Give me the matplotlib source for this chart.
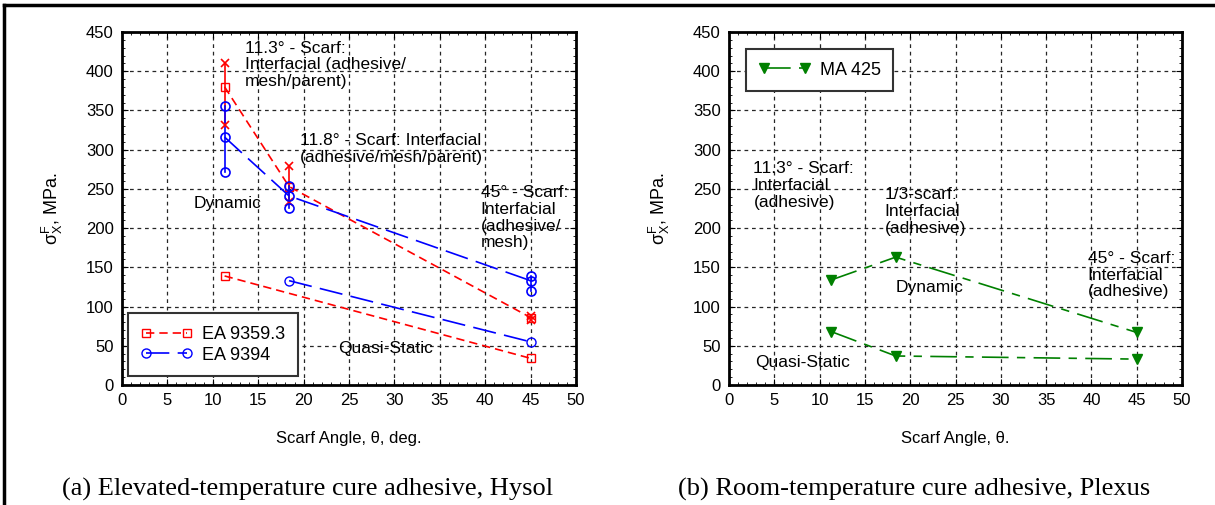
import matplotlib
matplotlib.use('Agg')
import matplotlib.pyplot as plt
from matplotlib.lines import Line2D
from matplotlib.ticker import MultipleLocator

plt.rcParams['font.family'] = ['Liberation Sans', 'DejaVu Sans']
plt.rcParams['mathtext.fontset'] = 'custom'
plt.rcParams['mathtext.rm'] = 'Liberation Sans'
plt.rcParams['mathtext.it'] = 'Liberation Sans'

# scarf angles, deg.
angles = [11.3, 18.4, 45]

# EA 9359.3 (Hysol) - dynamic means and individual tests
ea9359_dyn = [380, 253, 86]
ea9359_dyn_pts_x = [11.3, 11.3, 18.4, 18.4, 45, 45]
ea9359_dyn_pts = [411, 332, 279, 233, 88, 83]
ea9359_qs_x = [11.3, 45]
ea9359_qs = [139, 34]

# EA 9394 (Hysol)
ea9394_dyn = [316, 241, 133]
ea9394_dyn_pts_x = [11.3, 11.3, 11.3, 18.4, 18.4, 18.4, 45, 45, 45]
ea9394_dyn_pts = [356, 316, 271, 254, 241, 226, 139, 132, 120]
ea9394_qs_x = [18.4, 45]
ea9394_qs = [133, 55]

# MA 425 (Plexus)
ma425_dyn = [134, 163, 67]
ma425_qs = [68, 37, 33]

RED = '#ff0000'
BLUE = '#0000ff'
GREEN = '#008000'


def style_axes(ax):
    ax.set_xlim(0, 50)
    ax.set_ylim(0, 450)
    ax.xaxis.set_major_locator(MultipleLocator(5))
    ax.xaxis.set_minor_locator(MultipleLocator(1))
    ax.yaxis.set_major_locator(MultipleLocator(50))
    ax.yaxis.set_minor_locator(MultipleLocator(10))
    ax.tick_params(which='both', direction='in', top=True, right=True)
    ax.tick_params(which='major', length=4, labelsize=12, pad=6)
    ax.tick_params(which='minor', length=2)
    ax.grid(True, which='major', color='0.15', linestyle=(0, (3, 3)), linewidth=0.9)
    for s in ax.spines.values():
        s.set_linewidth(2)
    ax.set_ylabel(r'$\sigma_{\mathrm{X}}^{\mathrm{F}}$, MPa.', fontsize=13, labelpad=15)


def range_bars(ax, xs, ys, color):
    for a in sorted(set(xs)):
        vals = [y for x, y in zip(xs, ys) if x == a]
        ax.plot([a, a], [min(vals), max(vals)], color=color, lw=1.2)


def boxed_legend(ax, **kw):
    leg = ax.legend(numpoints=2, fontsize=13, fancybox=False, framealpha=1, edgecolor='0.2',
                    handlelength=2.9, handletextpad=0.5, labelspacing=0.2, borderpad=0.7,
                    borderaxespad=0, **kw)
    leg.get_frame().set_linewidth(1.5)
    return leg


fig = plt.figure(figsize=(12.15, 5.05), dpi=100)
ax1 = fig.add_axes([122 / 1215, 1 - 385 / 505, 454 / 1215, 353 / 505])
ax2 = fig.add_axes([729 / 1215, 1 - 385 / 505, 453 / 1215, 353 / 505])

txt = dict(fontsize=12.5, va='top', ha='left', linespacing=1.15)

# (a) Hysol
style_axes(ax1)
red_ls = (0, (5, 3))
blue_ls = (0, (14, 5))
range_bars(ax1, ea9359_dyn_pts_x, ea9359_dyn_pts, RED)
range_bars(ax1, ea9394_dyn_pts_x, ea9394_dyn_pts, BLUE)
ax1.plot(angles, ea9359_dyn, color=RED, ls=red_ls, lw=1.2, marker='s', ms=6, mfc='none')
ax1.plot(ea9359_dyn_pts_x, ea9359_dyn_pts, 'x', color=RED, ms=6, mew=1.2)
ax1.plot(angles, ea9394_dyn, color=BLUE, ls=blue_ls, lw=1.2)
ax1.plot(ea9394_dyn_pts_x, ea9394_dyn_pts, 'o', color=BLUE, ms=6.5, mfc='none', mew=1.2)
ax1.plot(ea9359_qs_x, ea9359_qs, color=RED, ls=red_ls, lw=1.2, marker='s', ms=6, mfc='none',
         label='EA 9359.3')
ax1.plot(ea9394_qs_x, ea9394_qs, color=BLUE, ls=blue_ls, lw=1.2, marker='o', ms=6.5,
         mfc='none', label='EA 9394')
boxed_legend(ax1, loc='lower left', bbox_to_anchor=(0.013, 0.025))

ax1.text(13.5, 439, '11.3\u00b0 - Scarf:\nInterfacial (adhesive/\nmesh/parent)', **txt)
ax1.text(19.6, 321, '11.8\u00b0 - Scarf: Interfacial\n(adhesive/mesh/parent)', **txt)
ax1.text(39.5, 255, '45\u00b0 - Scarf:\nInterfacial\n(adhesive/\nmesh)', **txt)
ax1.text(7.9, 232, 'Dynamic', fontsize=12.5, va='center')
ax1.text(23.8, 47, 'Quasi-Static', fontsize=12.5, va='center')
ax1.set_xlabel('Scarf Angle, \u03b8, deg.', fontsize=12, labelpad=16)

# (b) Plexus
style_axes(ax2)
green_ls = (0, (16, 5, 5, 5))
ax2.plot(angles, ma425_dyn, color=GREEN, ls=green_ls, lw=1.2, marker='v', ms=7,
         label='MA 425')
ax2.plot(angles, ma425_qs, color=GREEN, ls=green_ls, lw=1.2, marker='v', ms=7)
boxed_legend(ax2, loc='upper left', bbox_to_anchor=(0.037, 0.952))

ax2.text(2.7, 285, '11.3\u00b0 - Scarf:\nInterfacial\n(adhesive)', **txt)
ax2.text(17.2, 252, '1/3-scarf:\nInterfacial\n(adhesive)', **txt)
ax2.text(39.6, 171, '45\u00b0 - Scarf:\nInterfacial\n(adhesive)', **txt)
ax2.text(18.4, 124, 'Dynamic', fontsize=12.5, va='center')
ax2.text(2.9, 29, 'Quasi-Static', fontsize=12.5, va='center')
ax2.set_xlabel('Scarf Angle, \u03b8.', fontsize=12, labelpad=16)

# captions
fig.text(308 / 1215, 1 - 496 / 505, '(a) Elevated-temperature cure adhesive, Hysol',
         family='Liberation Serif', fontsize=19, ha='center', va='baseline')
fig.text(914 / 1215, 1 - 496 / 505, '(b) Room-temperature cure adhesive, Plexus',
         family='Liberation Serif', fontsize=19, ha='center', va='baseline')

# frame around figure (top and left edges visible)
fig.add_artist(Line2D([4 / 1215, 1], [1 - 5 / 505, 1 - 5 / 505], color='k', lw=2.5))
fig.add_artist(Line2D([4 / 1215, 4 / 1215], [0, 1 - 5 / 505], color='k', lw=2.5))

fig.savefig('out.png', dpi=100)
